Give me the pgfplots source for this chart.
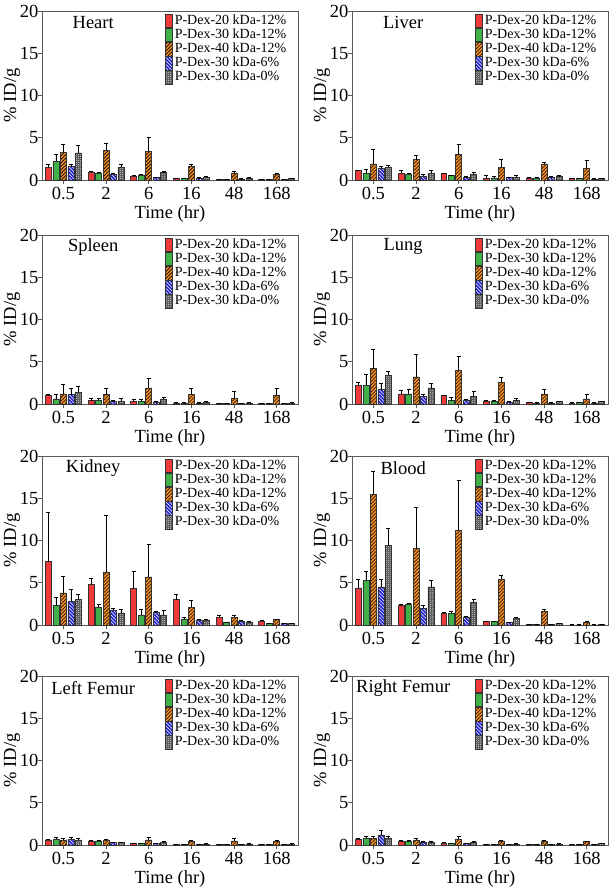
\documentclass[border=0pt]{standalone}
\usepackage{pgfplots}
\pgfplotsset{compat=1.18}
\usepackage{pgfplotstable}
\usepackage{fontspec}
\setmainfont{Liberation Serif}
\usetikzlibrary{patterns}

\definecolor{cred}{RGB}{240,58,58}
\definecolor{cgreen}{RGB}{64,176,72}
\definecolor{corange}{RGB}{242,142,38}
\definecolor{cblue}{RGB}{36,36,205}
\definecolor{cframe}{RGB}{90,90,90}

\pgfdeclarepatternformonly{myne}{\pgfqpoint{-1pt}{-1pt}}{\pgfqpoint{4.5pt}{4.5pt}}{\pgfqpoint{3.5pt}{3.5pt}}{%
 \pgfsetlinewidth{0.7pt}\pgfpathmoveto{\pgfqpoint{0pt}{0pt}}\pgfpathlineto{\pgfqpoint{3.6pt}{3.6pt}}\pgfusepath{stroke}}
\pgfdeclarepatternformonly{mynw}{\pgfqpoint{-1pt}{-1pt}}{\pgfqpoint{4.5pt}{4.5pt}}{\pgfqpoint{3.5pt}{3.5pt}}{%
 \pgfsetlinewidth{0.5pt}\pgfpathmoveto{\pgfqpoint{0pt}{3.5pt}}\pgfpathlineto{\pgfqpoint{3.6pt}{-0.1pt}}\pgfusepath{stroke}}
\pgfdeclarepatternformonly{mychecker}{\pgfqpoint{0pt}{0pt}}{\pgfqpoint{2pt}{2pt}}{\pgfqpoint{2pt}{2pt}}{%
 \pgfpathrectangle{\pgfqpoint{0pt}{0pt}}{\pgfqpoint{1pt}{1pt}}\pgfpathrectangle{\pgfqpoint{1pt}{1pt}}{\pgfqpoint{1pt}{1pt}}\pgfusepath{fill}}

% columns: x, value, +error for each series
\pgfplotstableread{
x r re g ge o oe b be k ke
0 1.5 0.3 2.2 0.9 3.3 0.9 1.6 0.2 3.2 0.9
1 0.9 0.1 0.85 0.05 3.5 0.9 0.7 0.15 1.5 0.3
2 0.5 0.1 0.55 0.15 3.4 1.6 0.3 0.05 0.9 0.1
3 0.15 0.05 0.15 0.05 1.6 0.3 0.15 0.15 0.3 0.15
4 0.05 0.02 0.05 0.02 0.85 0.15 0.1 0.05 0.15 0.15
5 0.05 0.02 0.05 0.02 0.7 0.1 0.05 0.02 0.15 0.05
}\heart
\pgfplotstableread{
x r re g ge o oe b be k ke
0 1.1 0.1 0.8 0.5 1.9 1.7 1.4 0.2 1.5 0.2
1 0.8 0.3 0.7 0.1 2.4 0.5 0.5 0.2 0.8 0.4
2 0.75 0.05 0.55 0.05 3.0 1.2 0.35 0.05 0.7 0.2
3 0.2 0.3 0.25 0.15 1.5 1.0 0.3 0.05 0.3 0.2
4 0.25 0.05 0.25 0.05 1.9 0.2 0.3 0.1 0.4 0.2
5 0.2 0.05 0.15 0.05 1.4 0.9 0.1 0.05 0.15 0.05
}\liver
\pgfplotstableread{
x r re g ge o oe b be k ke
0 1.0 0.2 0.6 0.5 1.2 1.1 1.1 0.8 1.4 0.7
1 0.4 0.3 0.5 0.2 1.1 0.7 0.3 0.1 0.35 0.35
2 0.35 0.15 0.3 0.2 1.9 1.2 0.25 0.05 0.6 0.2
3 0.1 0.05 0.1 0.05 1.1 0.7 0.1 0.05 0.15 0.15
4 0.05 0.05 0.05 0.05 0.7 0.8 0.05 0.05 0.1 0.1
5 0.05 0.05 0.05 0.05 1.0 0.8 0.05 0.05 0.1 0.1
}\spleen
\pgfplotstableread{
x r re g ge o oe b be k ke
0 2.2 0.4 2.2 1.3 4.2 2.3 1.7 0.8 3.4 0.5
1 1.2 0.4 1.2 0.5 3.2 2.7 0.9 0.2 1.9 0.5
2 1.0 0.0 0.4 0.4 4.0 1.6 0.5 0.1 0.9 0.6
3 0.3 0.1 0.3 0.1 2.6 0.6 0.25 0.1 0.4 0.3
4 0.15 0.05 0.1 0.05 1.2 0.5 0.1 0.05 0.3 0.05
5 0.1 0.05 0.15 0.1 0.6 0.5 0.1 0.05 0.3 0.05
}\lung
\pgfplotstableread{
x r re g ge o oe b be k ke
0 7.5 5.8 2.3 1.0 3.8 2.0 2.8 1.4 3.0 0.6
1 4.8 0.7 2.1 0.4 6.3 6.7 1.8 0.2 1.4 0.5
2 4.3 2.1 1.2 0.6 5.7 3.9 1.5 0.1 1.2 0.5
3 3.0 0.6 0.7 0.2 2.1 0.8 0.6 0.1 0.6 0.1
4 0.9 0.2 0.3 0.05 0.9 0.3 0.45 0.05 0.3 0.15
5 0.45 0.1 0.2 0.05 0.65 0.05 0.2 0.05 0.2 0.05
}\kidney
\pgfplotstableread{
x r re g ge o oe b be k ke
0 4.4 1.0 5.3 1.0 15.5 2.7 4.5 0.9 9.4 2.1
1 2.3 0.1 2.5 0.1 9.1 4.8 2.0 0.3 4.5 0.8
2 1.4 0.1 1.4 0.2 11.2 5.9 0.95 0.1 2.7 0.3
3 0.4 0.05 0.45 0.02 5.4 0.5 0.3 0.02 0.8 0.15
4 0.05 0.02 0.05 0.02 1.6 0.2 0.05 0.02 0.15 0.05
5 0.02 0.01 0.02 0.01 0.35 0.05 0.02 0.01 0.05 0.02
}\blood
\pgfplotstableread{
x r re g ge o oe b be k ke
0 0.6 0.1 0.7 0.2 0.6 0.2 0.7 0.2 0.6 0.2
1 0.5 0.05 0.5 0.05 0.6 0.1 0.3 0.05 0.3 0.05
2 0.2 0.05 0.2 0.05 0.6 0.3 0.15 0.05 0.3 0.1
3 0.05 0.02 0.05 0.02 0.4 0.1 0.05 0.02 0.1 0.05
4 0.05 0.02 0.05 0.02 0.5 0.3 0.05 0.02 0.1 0.05
5 0.05 0.02 0.05 0.02 0.4 0.1 0.05 0.02 0.1 0.05
}\lfemur
\pgfplotstableread{
x r re g ge o oe b be k ke
0 0.7 0.05 0.8 0.2 0.8 0.2 1.2 0.5 0.8 0.2
1 0.45 0.05 0.45 0.05 0.6 0.2 0.35 0.05 0.35 0.05
2 0.25 0.05 0.2 0.05 0.7 0.3 0.2 0.05 0.35 0.05
3 0.05 0.02 0.05 0.02 0.5 0.05 0.1 0.02 0.1 0.05
4 0.05 0.02 0.05 0.02 0.5 0.05 0.05 0.02 0.1 0.05
5 0.05 0.02 0.05 0.02 0.4 0.05 0.05 0.02 0.15 0.05
}\rfemur

\pgfplotsset{
 sred/.style={draw=black!80, line width=0.5pt, fill=cred},
 sgreen/.style={draw=black!80, line width=0.5pt, fill=cgreen},
 sorange/.style={draw=black!80, line width=0.5pt, preaction={fill=corange}, pattern=myne, pattern color=black},
 sblue/.style={draw=black!80, line width=0.5pt, preaction={fill=cblue}, pattern=mynw, pattern color=white},
 sgray/.style={draw=black!80, line width=0.5pt, preaction={fill=black!70}, pattern=mychecker, pattern color=white!90!black},
 panel/.style={
  width=256pt, height=169pt, scale only axis,
  ybar, bar width=0.14,
  xmin=-0.5, xmax=5.5, ymin=0, ymax=20,
  xtick={0,...,5}, xticklabels={0.5,2,6,16,48,168},
  ytick={0,5,10,15,20},
  xtick pos=bottom, ytick pos=left, tick align=outside,
  major tick length=4pt,
  every tick/.style={cframe, line width=0.8pt},
  axis line style={cframe, line width=0.8pt},
  tick label style={font=\fontsize{18.5}{18.5}\selectfont},
  yticklabel style={xshift=4pt},
  /pgf/number format/assume math mode=true,
  label style={font=\fontsize{18.5}{18.5}\selectfont},
  xlabel={Time (hr)}, ylabel={\% ID/g},
  xlabel style={yshift=1.5pt},
  ylabel style={yshift=-7pt},
  legend style={draw=none, fill=none, at={(0.965,0.985)}, anchor=north east,
    font=\fontsize{14}{14}\selectfont, row sep=0pt, inner sep=0pt,
    nodes={inner xsep=2.5pt, inner ysep=0pt, text height=10.4pt, text depth=3.6pt}},
  legend cell align=left,
  legend image code/.code={\draw[#1] (0pt,-6.8pt) rectangle (7pt,6.8pt);},
  error bars/y dir=plus, error bars/y explicit,
  error bars/error bar style={black, line width=0.6pt},
  error bars/error mark options={rotate=90, mark size=2pt, black, line width=0.6pt},
 }
}

\newcommand\panel[4]{%
\begin{axis}[panel, at={(#1,#2)}, anchor=north west]
 \addplot[sred, bar shift=-0.35] table[x=x, y=r, y error=re] {#3};
 \addplot[sgreen, bar shift=-0.175] table[x=x, y=g, y error=ge] {#3};
 \addplot[sorange, bar shift=0] table[x=x, y=o, y error=oe] {#3};
 \addplot[sblue, bar shift=0.175] table[x=x, y=b, y error=be] {#3};
 \addplot[sgray, bar shift=0.35] table[x=x, y=k, y error=ke] {#3};
 \legend{P-Dex-20 kDa-12\%, P-Dex-30 kDa-12\%, P-Dex-40 kDa-12\%, P-Dex-30 kDa-6\%, P-Dex-30 kDa-0\%}
 \node[font=\fontsize{18.5}{18.5}\selectfont] at (rel axis cs:0.2,0.93) {#4};
\end{axis}}

\begin{document}
\begin{tikzpicture}
\useasboundingbox (0pt,0pt) rectangle (614pt,-889pt);
\panel{42pt}{-11pt}{\heart}{Heart}
\panel{352pt}{-11pt}{\liver}{Liver}
\panel{42pt}{-235pt}{\spleen}{Spleen}
\panel{352pt}{-235pt}{\lung}{Lung}
\panel{42pt}{-456pt}{\kidney}{Kidney}
\panel{352pt}{-456pt}{\blood}{Blood}
\panel{42pt}{-676pt}{\lfemur}{Left Femur}
\panel{352pt}{-676pt}{\rfemur}{Right Femur}
\end{tikzpicture}
\end{document}
